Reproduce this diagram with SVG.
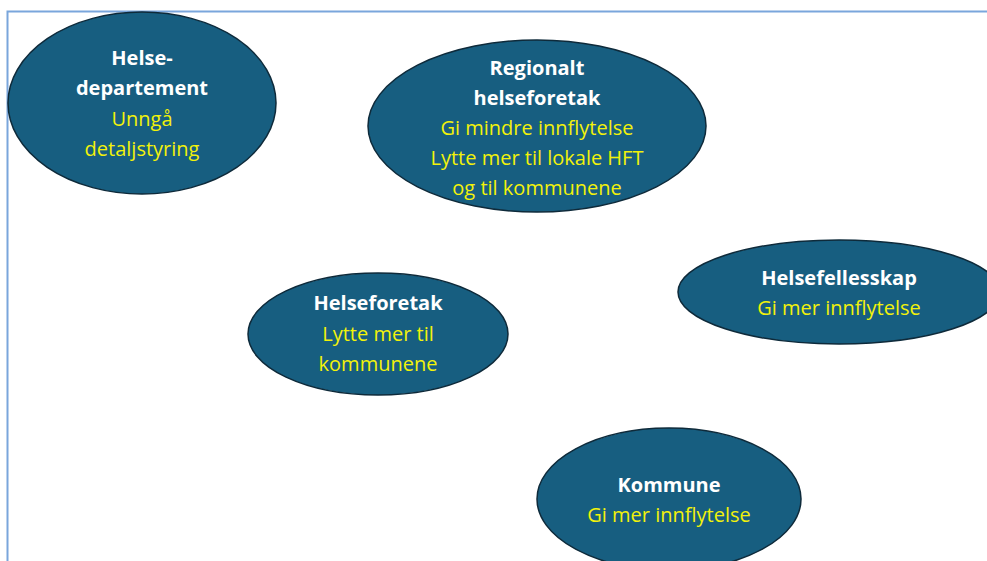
<svg xmlns="http://www.w3.org/2000/svg" width="987" height="561" viewBox="0 0 987 561">
<style>
.node ellipse{fill:#175e80;stroke:#0e2a3a;stroke-width:1.5}
.t{font-family:"Open Sans","Liberation Sans",sans-serif;font-size:20px;text-anchor:middle}
.h{fill:#ffffff;font-weight:bold}
.y{fill:#f2f20a}
</style>
<rect width="987" height="561" fill="#ffffff"/>
<path d="M7.5,561 V11.5 H987" fill="none" stroke="#7aa6dc" stroke-width="2"/>
<g id="connectors"></g>
<g id="helsedepartement" class="node">
<ellipse cx="142" cy="103" rx="134" ry="91"/>
<text class="t h" x="142" y="65">Helse-</text>
<text class="t h" x="142" y="95">departement</text>
<text class="t y" x="142" y="126">Unngå</text>
<text class="t y" x="142" y="156">detaljstyring</text>
</g>
<g id="regionalt" class="node">
<ellipse cx="537" cy="126" rx="169" ry="86"/>
<text class="t h" x="537" y="75">Regionalt</text>
<text class="t h" x="537" y="105">helseforetak</text>
<text class="t y" x="537" y="135">Gi mindre innflytelse</text>
<text class="t y" x="537" y="165">Lytte mer til lokale HFT</text>
<text class="t y" x="537" y="195">og til kommunene</text>
</g>
<g id="helseforetak" class="node">
<ellipse cx="378" cy="334" rx="130" ry="61"/>
<text class="t h" x="378" y="310">Helseforetak</text>
<text class="t y" x="378" y="341">Lytte mer til</text>
<text class="t y" x="378" y="371">kommunene</text>
</g>
<g id="helsefellesskap" class="node">
<ellipse cx="839" cy="292" rx="161" ry="52"/>
<text class="t h" x="839" y="285">Helsefellesskap</text>
<text class="t y" x="839" y="315">Gi mer innflytelse</text>
</g>
<g id="kommune" class="node">
<ellipse cx="669" cy="499" rx="132" ry="71"/>
<text class="t h" x="669" y="492">Kommune</text>
<text class="t y" x="669" y="522">Gi mer innflytelse</text>
</g>
</svg>
